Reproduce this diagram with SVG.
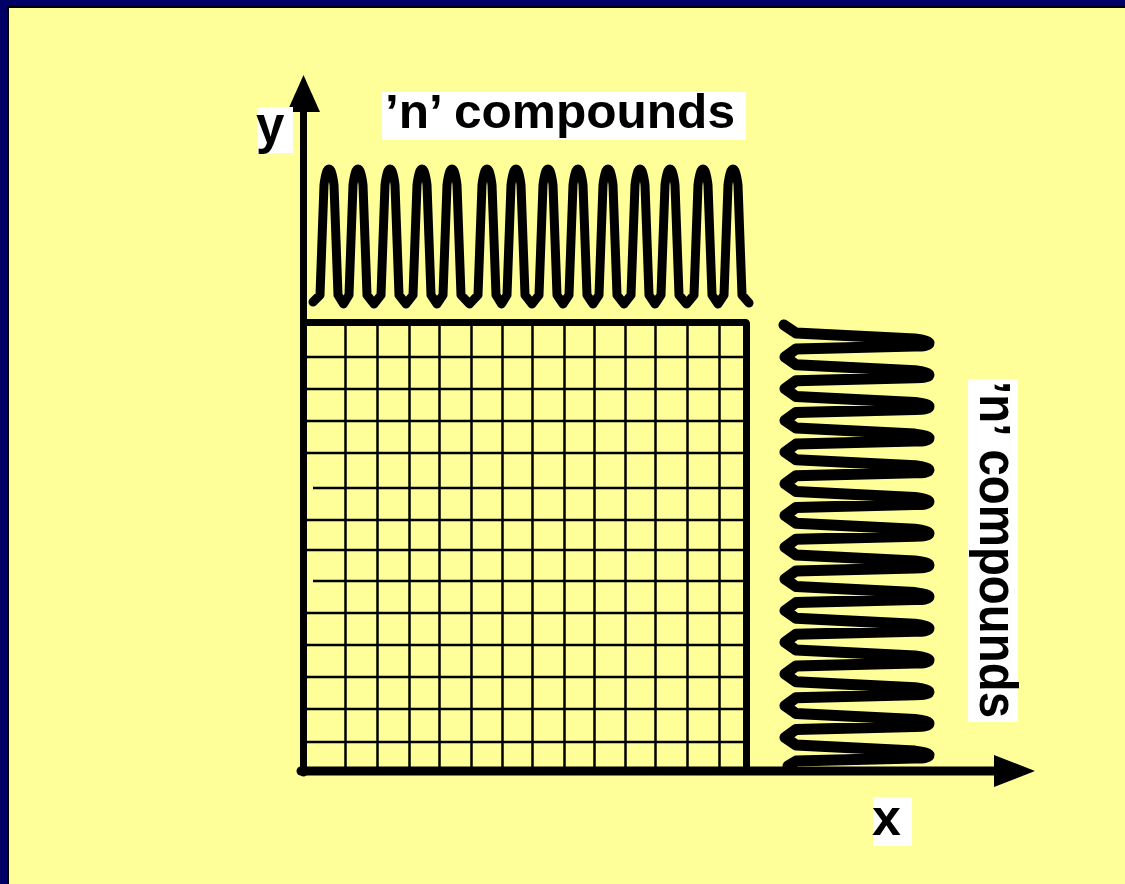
<svg xmlns="http://www.w3.org/2000/svg" width="1125" height="884" viewBox="0 0 1125 884">
<style>
.lbl{font-family:"Liberation Sans",Arial,sans-serif;font-weight:bold;fill:#000}
.box{fill:#fff}
.grid{stroke:#000;stroke-width:2.5;fill:none}
.peak{fill:none;stroke:#000;stroke-linejoin:round;stroke-linecap:round}
.axis{stroke:#000;fill:none;stroke-linecap:round}
</style>
<rect x="0" y="0" width="1125" height="884" fill="#FFFF99"/>
<rect x="0" y="0" width="1125" height="6" fill="#000066"/>
<rect x="0" y="0" width="7" height="884" fill="#000066"/>
<rect x="7" y="6" width="1118" height="2" fill="#000"/>
<rect x="7" y="6" width="2" height="878" fill="#000"/>

<g id="grid">
<path class="grid" d="M345.5 322V771M377.5 322V771M409.5 322V771M439.5 322V771M471.5 322V771M502.5 322V771M532.5 322V771M564.5 322V771M594.5 322V771M625.5 322V771M655.5 322V771M687.5 322V771M719.5 322V771"/>
<path class="grid" d="M307 357H743M307 389H743M307 421H743M307 453H743M313 488H743M307 520H743M307 550H743M313 581H743M307 613H743M307 645H743M307 677H743M307 709H743M307 742H743"/>
<path d="M300 322.5H745.5a1 1 0 0 1 1 1V771" fill="none" stroke="#000" stroke-width="7"/>
</g>

<g id="top-peaks">
<path class="peak" stroke-width="9" d="M313 302 L320 295 L324 185 Q326 169 329 169 Q332 169 334 185 L338 295 L343.5 304 L349 295 L353 185 Q355 169 358 169 Q361 169 363 185 L367 295 L374 304 L381 295 L385 185 Q387 169 390 169 Q393 169 395 185 L399 295 L406 304 L413 295 L417 185 Q419 169 422 169 Q425 169 427 185 L431 295 L437 304 L443 295 L447 185 Q449 169 452 169 Q455 169 457 185 L461 295 L469.5 304 L478 295 L482 185 Q484 169 487 169 Q490 169 492 185 L496 295 L501.5 304 L507 295 L511 185 Q513 169 516 169 Q519 169 521 185 L525 295 L532 304 L539 295 L543 185 Q545 169 548 169 Q551 169 553 185 L557 295 L563 304 L569 295 L573 185 Q575 169 578 169 Q581 169 583 185 L587 295 L593 304 L599 295 L603 185 Q605 169 608 169 Q611 169 613 185 L617 295 L624 304 L631 295 L635 185 Q637 169 640 169 Q643 169 645 185 L649 295 L655 304 L661 295 L665 185 Q667 169 670 169 Q673 169 675 185 L679 295 L686.5 304 L694 295 L698 185 Q700 169 703 169 Q706 169 708 185 L712 295 L718 304 L724 295 L728 185 Q730 169 733 169 Q736 169 738 185 L742 295 L749 303"/>
</g>

<g id="right-peaks">
<path class="peak" stroke-width="11" d="M784 325 L796 333 L915 339 Q929 341 929 343 Q929 346 915 346 L796 349 L785 357 L796 364.7 L915 370.7 Q929 372.7 929 374.7 Q929 377.7 915 377.7 L796 380.7 L785 388.7 L796 396.4 L915 402.4 Q929 404.4 929 406.4 Q929 409.4 915 409.4 L796 412.4 L785 420.4 L796 428.1 L915 434.1 Q929 436.1 929 438.1 Q929 441.1 915 441.1 L796 444.1 L785 452.1 L796 459.8 L915 465.8 Q929 467.8 929 469.8 Q929 472.8 915 472.8 L796 475.8 L785 483.8 L796 491.5 L915 497.5 Q929 499.5 929 501.5 Q929 504.5 915 504.5 L796 507.5 L785 515.5 L796 523.2 L915 529.2 Q929 531.2 929 533.2 Q929 536.2 915 536.2 L796 539.2 L785 547.2 L796 554.9 L915 560.9 Q929 562.9 929 564.9 Q929 567.9 915 567.9 L796 570.9 L785 578.9 L796 586.6 L915 592.6 Q929 594.6 929 596.6 Q929 599.6 915 599.6 L796 602.6 L785 610.6 L796 618.3 L915 624.3 Q929 626.3 929 628.3 Q929 631.3 915 631.3 L796 634.3 L785 642.3 L796 650 L915 656 Q929 658 929 660 Q929 663 915 663 L796 666 L785 674 L796 681.7 L915 687.7 Q929 689.7 929 691.7 Q929 694.7 915 694.7 L796 697.7 L785 705.7 L796 713.4 L915 719.4 Q929 721.4 929 723.4 Q929 726.4 915 726.4 L796 729.4 L785 737.4 L796 745.1 L915 751.1 Q929 753.1 929 755.1 Q929 758.1 915 758.1 L796 761.1 L788 766"/>
</g>

<g id="connectors">
<path class="axis" stroke-width="7" d="M303.5 110V773"/>
<polygon points="303.5,75 287,112 320,112" fill="#000"/>
<path class="axis" stroke-width="9" d="M301 771H998"/>
<polygon points="1035,771 994,755 994,787" fill="#000"/>
</g>

<g id="label-top">
<rect class="box" x="382" y="92" width="364" height="48"/>
<text class="lbl" x="385" y="128" font-size="48" textLength="350" lengthAdjust="spacingAndGlyphs">’n’ compounds</text>
</g>

<g id="label-right">
<rect class="box" x="968" y="379" width="50" height="343"/>
<text class="lbl" transform="translate(980,381) rotate(90) scale(1,1.15)" x="0" y="0" font-size="47" textLength="337" lengthAdjust="spacingAndGlyphs"><tspan dy="6">’</tspan><tspan dy="-6">n</tspan><tspan dy="6">’</tspan><tspan dy="-6"> compounds</tspan></text>
</g>

<g id="label-y">
<rect class="box" x="257" y="107" width="36" height="46"/>
<text class="lbl" x="256" y="143" font-size="51">y</text>
</g>

<g id="label-x">
<rect class="box" x="873" y="797" width="39" height="49"/>
<text class="lbl" x="872" y="835" font-size="52">x</text>
</g>
</svg>
